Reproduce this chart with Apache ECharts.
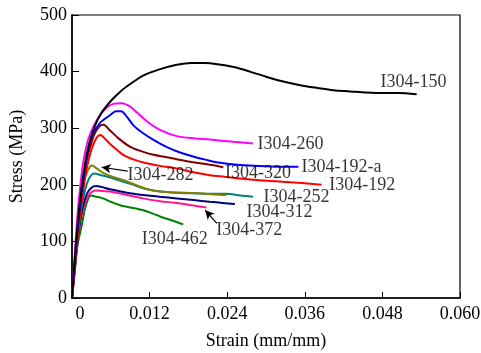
<!DOCTYPE html>
<html lang="en">
<head>
    <meta charset="UTF-8"/>
    <style>
        html, body { margin: 0; padding: 0; background: #fff; }
    </style>
</head>
<body>

<div id="main" style="width: 481px;height:353px;"></div>

<script src="https://cdn.jsdelivr.net/npm/echarts@6/dist/echarts.min.js"></script>
<script type="text/javascript">

    // 应力-应变曲线数据 [strain, stress]
    var s150 = [[0,0],[0.0005,80],[0.001,145],[0.0016,205],[0.0025,265],[0.0035,303],[0.0045,326],[0.006,348],[0.0075,365],[0.009,378],[0.011,393],[0.0135,404],[0.0162,412],[0.0185,415],[0.0205,415],[0.0225,413],[0.025,408],[0.0275,400],[0.03,391],[0.0325,383],[0.0353,376],[0.038,371],[0.0404,367],[0.043,365],[0.0456,363],[0.048,362],[0.0505,362],[0.0533,360]];
    var s260 = [[0,0],[0.0004,70],[0.0008,140],[0.0013,200],[0.00175,240],[0.0025,280],[0.0034,305],[0.0048,330],[0.0064,343],[0.0077,344],[0.009,338],[0.01,328],[0.0118,310],[0.0136,297],[0.0162,286],[0.019,282],[0.0213,280],[0.025,276],[0.028,273]];
    var s192a = [[0,0],[0.0005,75],[0.001,140],[0.0015,190],[0.0022,245],[0.003,285],[0.0043,309],[0.0059,323],[0.0068,330],[0.0076,330],[0.0085,320],[0.0095,305],[0.011,291],[0.0128,278],[0.0146,267],[0.0167,257],[0.0187,250],[0.0208,244],[0.0229,239],[0.026,235],[0.029,233],[0.032,232],[0.035,232]];
    var s320 = [[0,0],[0.0005,70],[0.001,135],[0.0015,185],[0.0022,240],[0.0033,285],[0.0042,303],[0.0049,306],[0.0058,297],[0.0072,282],[0.009,267],[0.0108,259],[0.0126,253],[0.0145,249],[0.0162,245],[0.018,241],[0.0198,238],[0.0216,235],[0.0234,231]];
    var s192 = [[0,0],[0.0005,65],[0.001,125],[0.0016,180],[0.0023,230],[0.003,262],[0.0038,283],[0.0044,288],[0.0052,280],[0.0062,269],[0.0079,253],[0.0097,244],[0.0115,238],[0.0138,233],[0.0162,229],[0.0188,222],[0.0213,217],[0.0237,214],[0.026,211],[0.029,208],[0.032,206],[0.0355,203],[0.0386,200]];
    var s282 = [[0,0],[0.0005,65],[0.001,125],[0.0015,178],[0.002,212],[0.0026,229],[0.0031,234],[0.0037,230],[0.0048,221],[0.0066,213],[0.0085,206],[0.0102,198],[0.012,191],[0.0136,188],[0.0152,187],[0.0175,186],[0.0198,185],[0.022,183],[0.0239,182]];
    var s252 = [[0,0],[0.0005,65],[0.001,120],[0.0016,168],[0.0023,202],[0.0029,216],[0.0034,220],[0.0045,217],[0.0059,213],[0.0077,206],[0.0095,200],[0.0113,193],[0.0131,189],[0.016,186],[0.0188,185],[0.0215,184],[0.0239,184],[0.026,181],[0.028,179]];
    var s312 = [[0,0],[0.0005,60],[0.001,115],[0.0016,158],[0.0023,184],[0.003,195],[0.0037,198],[0.0059,192],[0.0085,186],[0.011,182],[0.0135,179],[0.0162,176],[0.0188,173],[0.0213,170],[0.0233,168],[0.0252,166]];
    var s372 = [[0,0],[0.0005,58],[0.001,110],[0.0016,152],[0.0024,178],[0.003,187],[0.0037,190],[0.0048,189],[0.0059,188],[0.0085,182],[0.011,176],[0.0136,171],[0.0162,168],[0.0185,164],[0.0208,160]];
    var s462 = [[0,0],[0.0004,45],[0.0008,90],[0.0015,128],[0.002,157],[0.0025,175],[0.0029,181],[0.0038,179],[0.0048,176],[0.006,170],[0.0074,164],[0.009,160],[0.011,155],[0.0123,150],[0.0136,144],[0.0155,137],[0.0172,130]];

    var names = ['I304-150','I304-260','I304-192-a','I304-320','I304-192','I304-282','I304-252','I304-312','I304-372','I304-462'];
    var curves = [s150, s260, s192a, s320, s192, s282, s252, s312, s372, s462];
    var colors = ['#000000','#ff00ff','#0000ff','#800000','#ff0000','#808000','#008080','#000080','#ff1493','#008000'];

    // 标注文字位置 (左端中点)
    var labelPos = [[0.0477,382],[0.0287,272],[0.0355,231],[0.02366,221],[0.0398,200],[0.0086,217],[0.0296,178],[0.027,151],[0.0223,119],[0.0108,104]];

    var xTicks = [0, 0.012, 0.024, 0.036, 0.048, 0.060];

    var font = 'Liberation Serif, Times New Roman, serif';

    var myChart = echarts.init(document.getElementById('main'));

    var series = [];
    for (var i = 0; i < curves.length; i++) {
        series.push({
            name: names[i],
            type: 'line',
            data: curves[i],
            showSymbol: false,
            smooth: 0.3,
            lineStyle: {color: colors[i], width: 2},
            z: 10 - i
        });
    }

    var labelData = [];
    for (var j = 0; j < names.length; j++) {
        labelData.push({name: names[j], value: labelPos[j]});
    }

    series.push({
        type: 'scatter',
        data: labelData,
        symbolSize: 0,
        silent: true,
        z: 20,
        label: {
            show: true,
            position: 'right',
            distance: 0,
            formatter: '{b}',
            color: '#000',
            fontFamily: font,
            fontSize: 18
        },
        markLine: {
            silent: true,
            symbol: ['none', 'arrow'],
            symbolSize: [7, 9],
            label: {show: false},
            lineStyle: {color: '#000', width: 1.2, type: 'solid'},
            data: [
                [{coord: [0.0086, 224]}, {coord: [0.0046, 231]}],
                [{coord: [0.0224, 132]}, {coord: [0.0206, 155]}]
            ]
        }
    });

    var options = {
        animation: false,
        grid: {
            left: 72, right: 21, top: 15, bottom: 55,
            outerBoundsMode: 'none',
            show: true,
            borderColor: '#000',
            borderWidth: 1.2
        },
        xAxis: {
            type: 'value',
            min: 0, max: 0.06, interval: 0.012,
            name: 'Strain (mm/mm)',
            nameLocation: 'middle',
            nameGap: 34,
            nameTextStyle: {color: '#000', fontFamily: font, fontSize: 18},
            axisLine: {lineStyle: {color: '#000', width: 1.5}},
            axisTick: {inside: true, length: 6, lineStyle: {color: '#000'}},
            axisLabel: {
                color: '#000', fontFamily: font, fontSize: 18, margin: 7,
                formatter: function (v) {
                    for (var k = 0; k < xTicks.length; k++) {
                        if (Math.abs(v - xTicks[k]) < 1e-9) {
                            return k === 0 ? '{z|0}' : xTicks[k].toFixed(3);
                        }
                    }
                    return '';
                },
                rich: {
                    z: {padding: [0, 0, 0, 16], fontFamily: font, fontSize: 18, color: '#000'}
                }
            },
            splitLine: {show: false}
        },
        yAxis: {
            type: 'value',
            min: 0, max: 500, interval: 100,
            name: 'Stress (MPa)',
            nameLocation: 'middle',
            nameGap: 46,
            nameTextStyle: {color: '#000', fontFamily: font, fontSize: 18},
            axisLine: {show: true, lineStyle: {color: '#000', width: 1.5}},
            axisTick: {show: true, inside: true, length: 7, lineStyle: {color: '#000'}},
            axisLabel: {color: '#000', fontFamily: font, fontSize: 18, margin: 5},
            splitLine: {show: false}
        },
        series: series
    };

    myChart.setOption(options);

</script>

</body>
</html>
